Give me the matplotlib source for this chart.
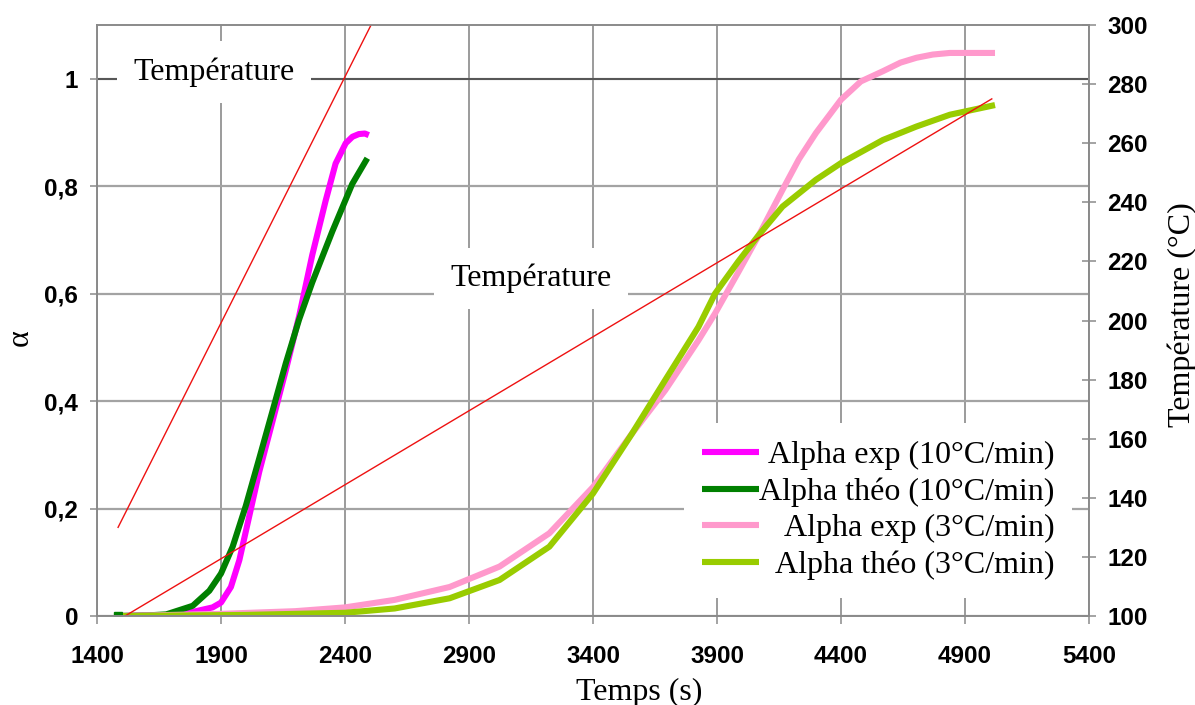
import numpy as np
import matplotlib
matplotlib.use("Agg")
import matplotlib.pyplot as plt
from matplotlib import font_manager

# --- data ---
time_exp10 = [1500, 1700, 1790, 1866, 1900, 1940, 1974, 2014, 2054, 2108,
              2161, 2215, 2268, 2322, 2362, 2403, 2430, 2456, 2480, 2496]
alpha_exp10 = [0, 0.002, 0.008, 0.016, 0.025, 0.054, 0.104, 0.186, 0.268, 0.363,
               0.457, 0.558, 0.672, 0.773, 0.842, 0.880, 0.892, 0.897, 0.898, 0.895]

time_theo10 = [1485, 1600, 1679, 1786, 1853, 1900, 1947, 2000, 2054, 2108,
               2161, 2215, 2268, 2349, 2429, 2490]
alpha_theo10 = [0, 0.001, 0.003, 0.019, 0.047, 0.079, 0.129, 0.205, 0.293, 0.382,
                0.470, 0.552, 0.621, 0.716, 0.804, 0.852]

time_exp3 = [1505, 1900, 2200, 2400, 2600, 2822, 3023, 3224, 3400, 3558, 3691,
             3825, 3892, 3986, 4070, 4164, 4230, 4299, 4400, 4480, 4569, 4640,
             4704, 4770, 4839, 5021]
alpha_exp3 = [0, 0.004, 0.009, 0.016, 0.030, 0.054, 0.092, 0.154, 0.240, 0.340, 0.420,
              0.513, 0.563, 0.640, 0.710, 0.793, 0.850, 0.899, 0.961, 0.995, 1.014, 1.030,
              1.039, 1.045, 1.048, 1.048]

time_theo3 = [1505, 2000, 2400, 2600, 2822, 3023, 3224, 3400, 3558, 3691, 3825,
              3892, 3986, 4070, 4164, 4299, 4400, 4569, 4704, 4839, 5021]
alpha_theo3 = [0, 0.002, 0.006, 0.014, 0.033, 0.067, 0.129, 0.228, 0.340, 0.439, 0.538,
               0.600, 0.660, 0.710, 0.762, 0.812, 0.843, 0.886, 0.911, 0.933, 0.951]

# temperature ramps (right axis)
temp_time_10 = [1485, 2505]
temp_10 = [130, 300]
temp_time_3 = [1513, 5008]
temp_3 = [100, 275]

series_labels = ["Alpha exp (10°C/min)", "Alpha théo (10°C/min)",
                 "Alpha exp (3°C/min)", "Alpha théo (3°C/min)"]
series_colors = ["#ff00ff", "#008000", "#ff99cc", "#99cc00"]

x_ticks = list(range(1400, 5401, 500))
y_ticks = [0, 0.2, 0.4, 0.6, 0.8, 1.0]
y_ticklabels = ["0", "0,2", "0,4", "0,6", "0,8", "1"]
t_ticks = list(range(100, 301, 20))


def pick_font(names):
    for n in names:
        try:
            font_manager.findfont(font_manager.FontProperties(family=n),
                                  fallback_to_default=False)
            return n
        except ValueError:
            continue
    return "DejaVu Sans"


tick_family = pick_font(["Liberation Sans Narrow", "Liberation Sans", "Arial"])
serif_family = pick_font(["Liberation Serif", "Times New Roman", "DejaVu Serif"])

tick_font = dict(family=tick_family, weight="bold", size=17.5)
text_font = dict(family=serif_family, size=23)

W, H = 1195, 705
fig = plt.figure(figsize=(W / 100, H / 100), dpi=100)
ax = fig.add_axes([97 / W, (H - 616) / H, 992 / W, 591 / H])
ax2 = ax.twinx()

ax.set_xlim(1400, 5400)
ax.set_ylim(0, 1.1)
ax2.set_ylim(100, 300)

grid_v = "#8a8a8a"
grid_h = "#a3a3a3"
ax.grid(axis="x", color=grid_v, linewidth=1.2)
ax.grid(axis="y", color=grid_h, linewidth=1.6)
ax.axhline(1.0, color="#404040", linewidth=1.1, zorder=1.5)
ax.set_axisbelow(True)

lines = []
for tt, aa, c, lab in zip([time_exp10, time_theo10, time_exp3, time_theo3],
                          [alpha_exp10, alpha_theo10, alpha_exp3, alpha_theo3],
                          series_colors, series_labels):
    ln, = ax.plot(tt, aa, color=c, linewidth=4.4, label=lab,
                  solid_capstyle="butt", solid_joinstyle="round")
    lines.append(ln)
# the theoretical 10 C/min curve starts with a small square
ax.plot(time_theo10[:1], alpha_theo10[:1], marker="s", markersize=6,
        color=series_colors[1], linestyle="none", zorder=1.9)

ax2.plot(temp_time_10, temp_10, color="#ee1111", linewidth=1.0)
ax2.plot(temp_time_3, temp_3, color="#ee1111", linewidth=1.0)

# ticks
ax.set_xticks(x_ticks)
ax.set_xticklabels([str(v) for v in x_ticks], **tick_font)
ax.set_yticks(y_ticks)
ax.set_yticklabels(y_ticklabels, **tick_font)
ax2.set_yticks(t_ticks)
ax2.set_yticklabels([str(v) for v in t_ticks], **tick_font)

ax.tick_params(axis="x", direction="out", length=6, width=1.1, color=grid_v, pad=15)
ax.tick_params(axis="y", direction="out", length=5, width=1.1, color=grid_v, pad=8.5)
ax2.tick_params(axis="y", direction="inout", length=10, width=1.1, color=grid_v, pad=8)

for sp in ax.spines.values():
    sp.set_color(grid_v)
    sp.set_linewidth(1.2)
for sp in ax2.spines.values():
    sp.set_color(grid_v)
    sp.set_linewidth(1.2)

# axis titles
fig.text(20 / W, 1 - 338 / H, "α", rotation=90, ha="center", va="center", **text_font)
fig.text(639 / W, 5 / H, "Temps (s)", ha="center", va="baseline", **text_font)
fig.text(1182 / W, 1 - 315 / H, "Température (°C)", rotation=90,
         ha="center", va="center", **text_font)

# annotations on the temperature ramps
box = dict(boxstyle="square,pad=0.5", facecolor="white", edgecolor="none")
ax2.text(0.118, 0.907, "Température", transform=ax.transAxes, ha="center",
         va="baseline", bbox=box, **text_font)
ax2.text(0.4375, 0.558, "Température", transform=ax.transAxes, ha="center",
         va="baseline", bbox=box, **text_font)

leg = ax2.legend(lines, series_labels, loc="upper left",
                 bbox_to_anchor=((684 - 97) / 992, (616 - 423) / 591),
                 bbox_transform=ax.transAxes, borderaxespad=0,
                 prop=dict(family=serif_family, size=23),
                 handlelength=1.8, handletextpad=0.0, labelspacing=0.23,
                 borderpad=0.55, frameon=True, fancybox=False)
leg.get_frame().set_facecolor("white")
leg.get_frame().set_edgecolor("none")
leg.get_frame().set_alpha(1)

# right-align the legend labels, as in the original
fig.canvas.draw()
texts = leg.get_texts()
widths = [t.get_window_extent().width for t in texts]
wmax = max(widths)
for t, w in zip(texts, widths):
    t.set_x(wmax - w)

fig.savefig("out.png", dpi=100)
